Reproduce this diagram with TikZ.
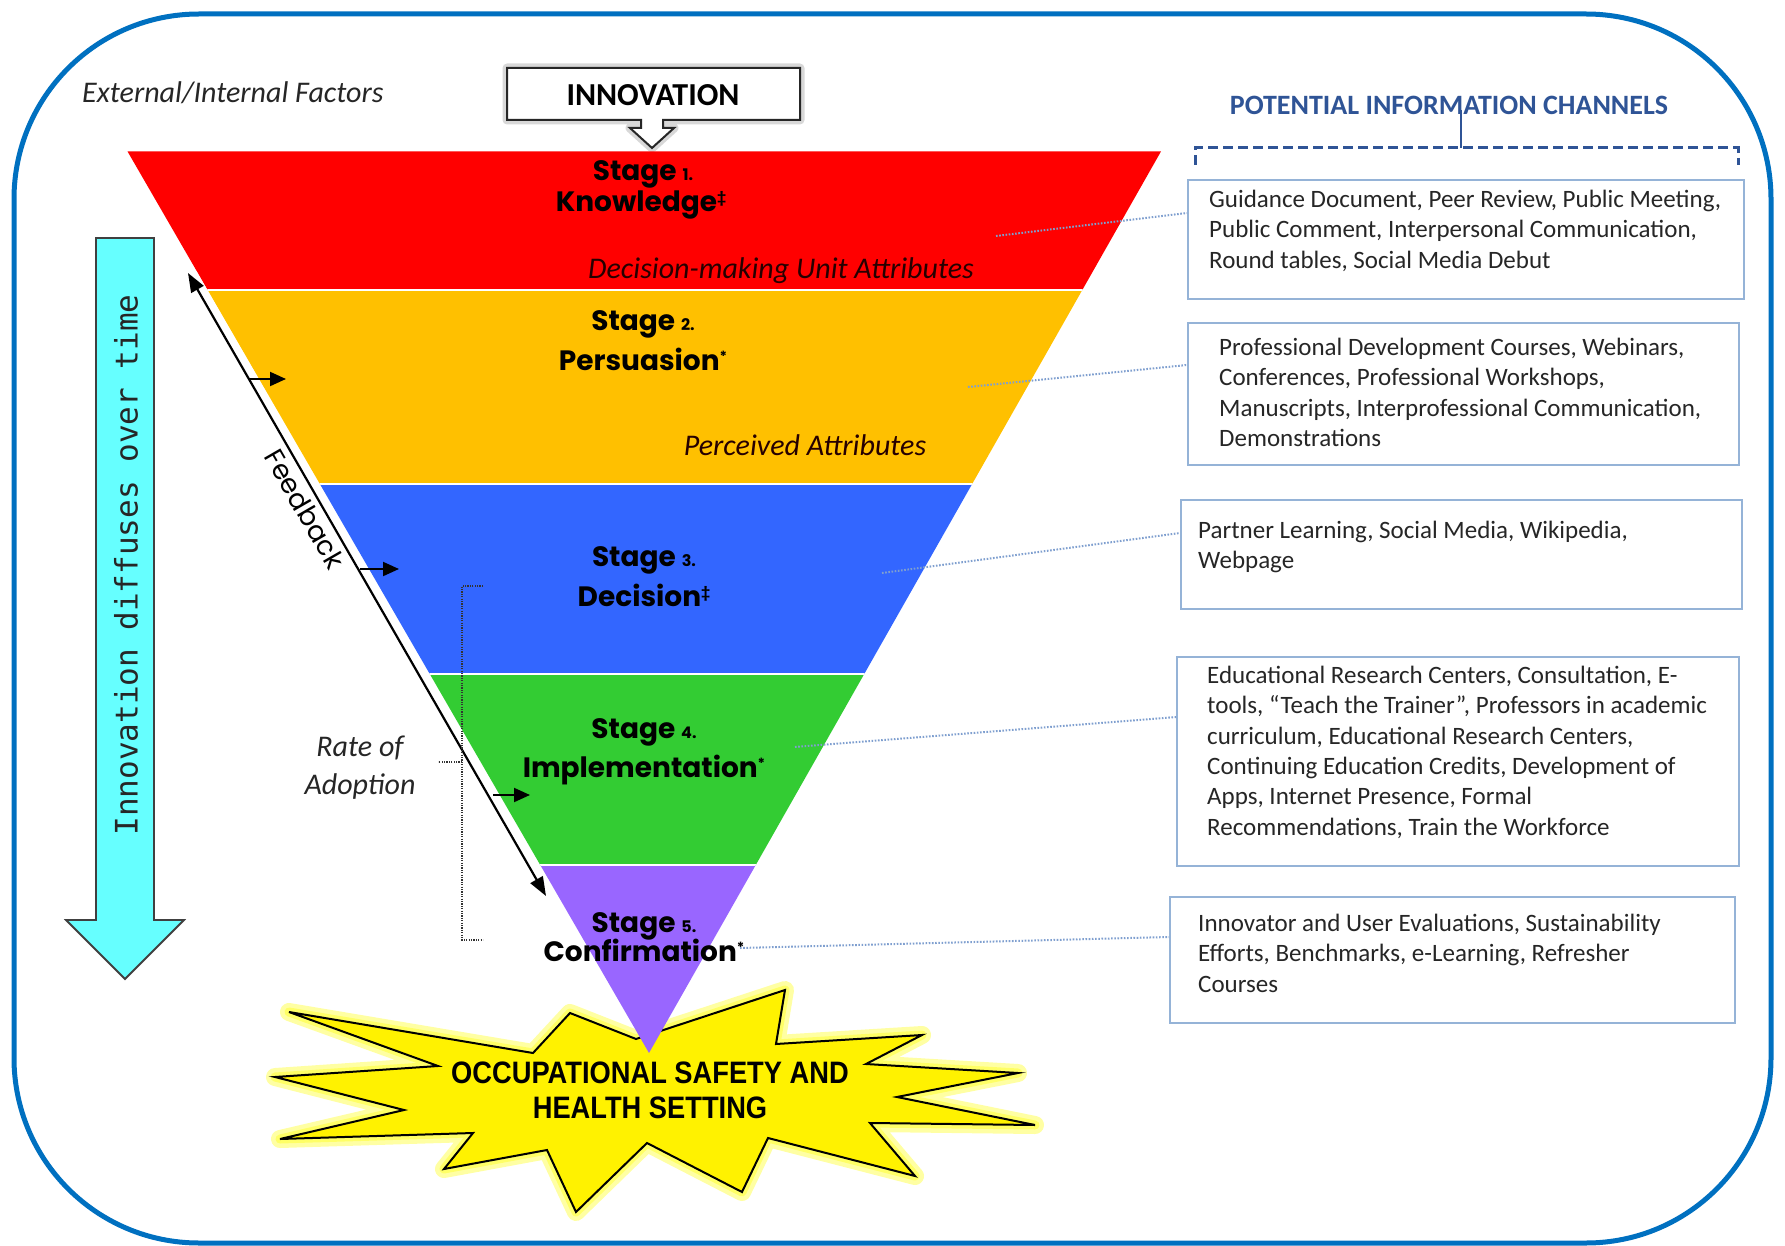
\documentclass[tikz,border=0pt]{standalone}
\usepackage{fontspec}
\usepackage{graphicx}
\setmainfont{Carlito}
\newfontfamily\popfont{Poppins}
\newfontfamily\monofont{DejaVu Sans Mono}
\newfontfamily\arialn{Liberation Sans}[FakeStretch=0.88]
\usetikzlibrary{arrows.meta}
\definecolor{frameblue}{HTML}{0070C0}
\definecolor{hdrblue}{HTML}{2F5496}
\definecolor{boxedge}{HTML}{95B3D7}
\definecolor{connblue}{HTML}{7F9FCF}
\definecolor{txtgray}{HTML}{262626}
\definecolor{cyanfill}{HTML}{66FFFF}
\definecolor{bandred}{HTML}{FF0000}
\definecolor{bandorange}{HTML}{FFC000}
\definecolor{bandblue}{HTML}{3366FF}
\definecolor{bandgreen}{HTML}{33CC33}
\definecolor{bandpurple}{HTML}{9966FF}
\definecolor{starglow}{HTML}{FFFF66}
\newcommand\setfs[2]{\fontsize{#1}{#2}\selectfont}
\newcommand\stmark[1]{{\setfs{14}{14}\raisebox{9pt}{#1}}}
\begin{document}
\begin{tikzpicture}[x=1pt,y=-1pt,
  chbox/.style={draw=boxedge, line width=1.8pt, fill=white, inner sep=0pt, anchor=north west},
  chtext/.style={font=\setfs{25}{30.3}, text=txtgray, align=left, anchor=north west, inner sep=0pt},
  conn/.style={draw=connblue, line width=2pt, dash pattern=on 1.6pt off 1.6pt},
  stagetxt/.style={font=\popfont\bfseries\setfs{28}{32}, inner sep=0pt},
  attr/.style={font=\itshape\setfs{30}{34}, inner sep=0pt, text=black!85!red},
  fbarrow/.style={line width=2.2pt, {Triangle[length=19pt,width=14pt]}-{Triangle[length=19pt,width=14pt]}},
  smallarr/.style={line width=2pt, -{Triangle[length=16pt,width=14pt]}},
  bracket/.style={line width=1.2pt, dash pattern=on 1.2pt off 1.2pt, draw=black!80}
]
\useasboundingbox (0,0) rectangle (1785,1246);

% outer frame
\draw[frameblue, line width=5pt, rounded corners=185pt] (14,14) rectangle (1771,1243);

% external factors
\node[font=\itshape\setfs{30}{34}, inner sep=0pt, anchor=west, text=txtgray] (ext) at (82,93) {External/Internal Factors};

% innovation callout
\draw[black!30, line width=9pt, opacity=0.5, line join=round]
  (507,68) -- (800,68) -- (800,120) -- (663,120) -- (663,128) -- (674,128) -- (652,148) -- (630,128) -- (641,128) -- (641,120) -- (507,120) -- cycle;
\filldraw[fill=white, draw=black!85, line width=2pt]
  (507,68) -- (800,68) -- (800,120) -- (663,120) -- (663,128) -- (674,128) -- (652,148) -- (630,128) -- (641,128) -- (641,120) -- (507,120) -- cycle;
\node[font=\bfseries\setfs{32}{34}, inner sep=0pt] (innov) at (653,95) {INNOVATION};

% starburst
\def\starpath{(289,1012) -- (533,1053) -- (570,1013) -- (636,1039) -- (785,990) -- (776,1044) -- (922,1035) -- (866,1064) -- (1018,1073) -- (897,1097) -- (1035,1125) -- (870,1123) -- (915,1176) -- (768,1138) -- (742,1192) -- (647,1143) -- (576,1212) -- (547,1150) -- (444,1169) -- (473,1133) -- (280,1139) -- (404,1110) -- (275,1077) -- (438,1066) -- cycle}
\draw[starglow!60, line width=18pt, line join=round] \starpath;
\draw[starglow, line width=9pt, line join=round] \starpath;
\filldraw[fill=yellow, draw=black, line width=2pt] \starpath;
\node[font=\arialn\bfseries\setfs{31}{35}, align=center, inner sep=0pt] (osh) at (650,1090) {OCCUPATIONAL SAFETY AND\\HEALTH SETTING};

% funnel
\begin{scope}
  \clip (127.5,151.4) -- (1161,151.4) -- (649,1053) -- cycle;
  \fill[bandred] (100,140) rectangle (1200,290);
  \fill[bandorange] (100,290) rectangle (1200,484);
  \fill[bandblue] (100,484) rectangle (1200,674);
  \fill[bandgreen] (100,674) rectangle (1200,865);
  \fill[bandpurple] (100,865) rectangle (1200,1060);
  \draw[white, line width=2.5pt] (100,290) -- (1200,290);
  \draw[white, line width=2.5pt] (100,484) -- (1200,484);
  \draw[white, line width=2.5pt] (100,674) -- (1200,674);
  \draw[white, line width=2.5pt] (100,865) -- (1200,865);
\end{scope}

% stage texts
\node[stagetxt] (s1a) at (643,174) {Stage \setfs{16}{18}1.};
\node[stagetxt] (s1b) at (641,205) {Knowledge\stmark{‡}};
\node[stagetxt] (s2a) at (643,324) {Stage \setfs{16}{18}2.};
\node[stagetxt] (s2b) at (643,359) {Persuasion\stmark{*}};
\node[stagetxt] (s3a) at (644,560) {Stage \setfs{16}{18}3.};
\node[stagetxt] (s3b) at (644,595) {Decision\stmark{‡}};
\node[stagetxt] (s4a) at (644,732) {Stage \setfs{16}{18}4.};
\node[stagetxt] (s4b) at (644,770) {Implementation\stmark{*}};
\node[stagetxt] (s5a) at (644,926) {Stage \setfs{16}{18}5.};
\node[stagetxt] (s5b) at (644,950) {Confirmation\stmark{*}};

\node[attr] (dmu) at (781,271) {Decision-making Unit Attributes};
\node[attr] (perc) at (805,445) {Perceived Attributes};

% cyan arrow
\filldraw[fill=cyanfill, draw=black!75, line width=1.8pt]
  (96,238) -- (154,238) -- (154,920) -- (184,920) -- (125,979) -- (66,920) -- (96,920) -- cycle;
\node[font=\monofont\setfs{31}{33}, rotate=90, inner sep=0pt, text=txtgray] (diff) at (126,565) {Innovation diffuses over time};

% feedback
\coordinate (fbA) at (188,273);
\coordinate (fbB) at (546,896);
\coordinate (fbAw) at (194,272);
\coordinate (fbBw) at (552,895);
\draw[white, line width=5pt] (fbAw) -- (fbBw);
\draw[fbarrow] (fbA) -- (fbB);
\node[font=\popfont\setfs{27}{30}, rotate=-60, inner sep=0pt] (fbl) at (305,509) {Feedback};

\coordinate (a1s) at (250,379); \coordinate (a1e) at (286,379);
\coordinate (a2s) at (360,569); \coordinate (a2e) at (399,569);
\coordinate (a3s) at (493,795); \coordinate (a3e) at (530,795);
\draw[smallarr] (a1s) -- (a1e);
\draw[smallarr] (a2s) -- (a2e);
\draw[smallarr] (a3s) -- (a3e);

% rate of adoption bracket
\coordinate (bt) at (483,586); \coordinate (btc) at (462,586);
\coordinate (bb) at (483,940); \coordinate (bbc) at (462,940);
\coordinate (bm) at (462,762); \coordinate (bml) at (438,762);
\draw[bracket] (bt) -- (btc) -- (bbc) -- (bb);
\draw[bracket] (bm) -- (bml);
\node[font=\itshape\setfs{30}{38}, align=center, inner sep=0pt, text=txtgray] (roa) at (360,768) {Rate of\\Adoption};

% header
\node[font=\bfseries\setfs{28}{30}, text=hdrblue, inner sep=0pt] (hdr) at (1449,105) {POTENTIAL INFORMATION CHANNELS};
\coordinate (hv1) at (1461,110); \coordinate (hv2) at (1461,148);
\draw[hdrblue, line width=2.5pt] (hv1) -- (hv2);
\coordinate (hl1) at (1195,165); \coordinate (hl2) at (1195,148);
\coordinate (hr2) at (1738,148); \coordinate (hr1) at (1738,165);
\draw[hdrblue, line width=3pt, dash pattern=on 10pt off 5pt] (hl1) -- (hl2) -- (hr2) -- (hr1);

% channel boxes
\node[chbox, minimum width=556pt, minimum height=119pt] (ch1) at (1187,179) {};
\node[chbox, minimum width=551pt, minimum height=142pt] (ch2) at (1187,322) {};
\node[chbox, minimum width=561pt, minimum height=109pt] (ch3) at (1180,499) {};
\node[chbox, minimum width=562pt, minimum height=209pt] (ch4) at (1176,656) {};
\node[chbox, minimum width=565pt, minimum height=126pt] (ch5) at (1169,896) {};

\node[chtext] (t1) at (1209,190) {Guidance Document, Peer Review, Public Meeting,\\Public Comment, Interpersonal Communication,\\Round tables, Social Media Debut};
\node[chtext] (t2) at (1219,338) {Professional Development Courses, Webinars,\\Conferences, Professional Workshops,\\Manuscripts, Interprofessional Communication,\\Demonstrations};
\node[chtext] (t3) at (1198,521) {Partner Learning, Social Media, Wikipedia,\\Webpage};
\node[chtext] (t4) at (1207,666) {Educational Research Centers, Consultation, E-\\tools, “Teach the Trainer”, Professors in academic\\curriculum, Educational Research Centers,\\Continuing Education Credits, Development of\\Apps, Internet Presence, Formal\\Recommendations, Train the Workforce};
\node[chtext] (t5) at (1198,914) {Innovator and User Evaluations, Sustainability\\Efforts, Benchmarks, e-Learning, Refresher\\Courses};

% connectors
\coordinate (f1) at (996,236); \coordinate (e1) at (1187,213);
\coordinate (f2) at (968,387); \coordinate (e2) at (1187,365);
\coordinate (f3) at (882,573); \coordinate (e3) at (1180,533);
\coordinate (f4) at (795,747); \coordinate (e4) at (1176,717);
\coordinate (f5) at (740,948); \coordinate (e5) at (1169,937);
\draw[conn] (f1) -- (e1);
\draw[conn] (f2) -- (e2);
\draw[conn] (f3) -- (e3);
\draw[conn] (f4) -- (e4);
\draw[conn] (f5) -- (e5);
\end{tikzpicture}
\end{document}
